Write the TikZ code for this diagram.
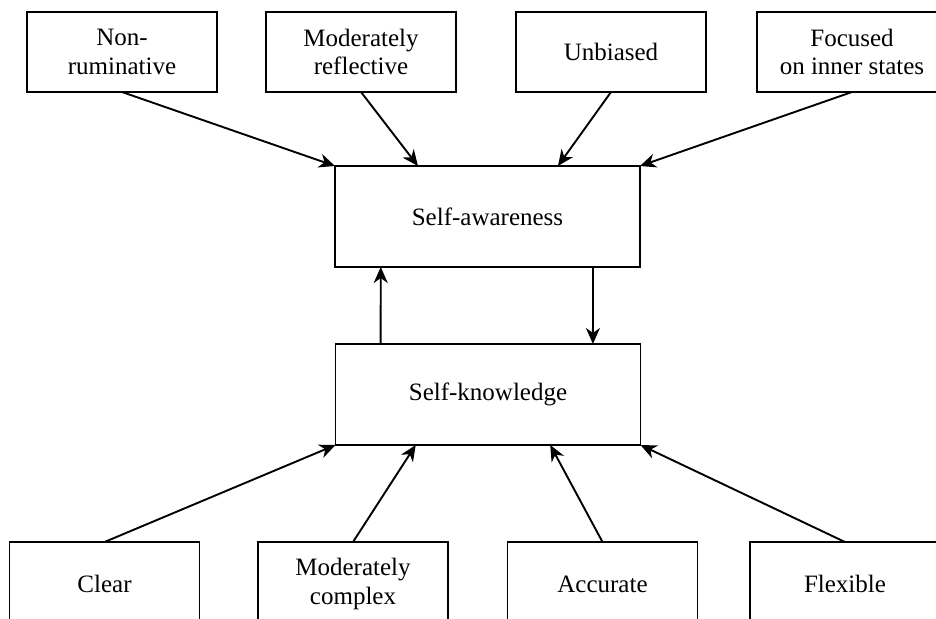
\documentclass[tikz,border=0pt]{standalone}
\usepackage{fontspec}
\setmainfont{Liberation Serif}
\usetikzlibrary{arrows.meta,calc}
\begin{document}
\begin{tikzpicture}[x=1pt,y=-1pt,
  box/.style={draw=black,line width=1.9pt,fill=white,minimum width=190pt,minimum height=80pt,inner sep=0pt,outer sep=0pt,align=center,font=\fontsize{25}{28.5}\selectfont},
  bigbox/.style={box,minimum width=305pt,minimum height=101pt},
  conn/.style={line width=1.9pt,-{Stealth[length=16pt,width=14pt,inset=5pt]}}]
\useasboundingbox (0,0) rectangle (936,618);
\clip (0,0) rectangle (936,618);
% top row
\node[box] (nr) at (122,52) {Non-\\ruminative};
\node[box] (mr) at (361,52) {Moderately\\reflective};
\node[box] (ub) at (611,52) {Unbiased};
\node[box] (fo) at (852,52) {Focused\\on inner states};
% centre
\node[bigbox] (sa) at (487.5,216.5) {Self-awareness};
\node[bigbox] (sk) at (488,394.5) {Self-knowledge};
% bottom row
\node[box,minimum height=84pt] (cl) at (104.5,584) {Clear};
\node[box,minimum height=84pt] (mc) at (353,584) {Moderately\\complex};
\node[box,minimum height=84pt] (ac) at (602.5,584) {Accurate};
\node[box,minimum height=84pt] (fl) at (845,584) {Flexible};
% connectors top
\draw[conn] (nr.south) -- (sa.north west);
\draw[conn] (mr.south) -- ($(sa.north west)!0.272!(sa.north east)$);
\draw[conn] (ub.south) -- ($(sa.north west)!0.731!(sa.north east)$);
\draw[conn] (fo.south) -- (sa.north east);
% between
\draw[conn] ($(sk.north west)!0.148!(sk.north east)$) -- ($(sa.south west)!0.150!(sa.south east)$);
\draw[conn] ($(sa.south west)!0.846!(sa.south east)$) -- ($(sk.north west)!0.844!(sk.north east)$);
% connectors bottom
\draw[conn] (cl.north) -- (sk.south west);
\draw[conn] (mc.north) -- ($(sk.south west)!0.263!(sk.south east)$);
\draw[conn] (ac.north) -- ($(sk.south west)!0.704!(sk.south east)$);
\draw[conn] (fl.north) -- (sk.south east);
\end{tikzpicture}
\end{document}
